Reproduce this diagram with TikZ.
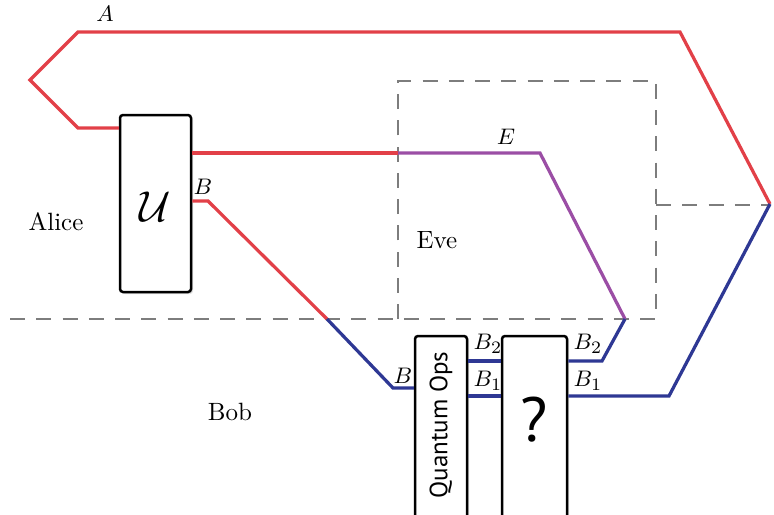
\documentclass[tikz,border=0pt]{standalone}
\usepackage{fontspec}
\newfontfamily\opsfont{PT Sans}
\usetikzlibrary{shadows}
\definecolor{wirered}{RGB}{226,64,72}
\definecolor{wirepurple}{RGB}{155,78,165}
\definecolor{wireblue}{RGB}{46,56,148}
\definecolor{zonegray}{RGB}{125,125,125}
\tikzset{
  wire/.style={line width=1.3pt, line join=miter},
  zone/.style={zonegray, line width=0.9pt, dash pattern=on 6pt off 4.5pt},
  opbox/.style={draw, line width=1pt, rounded corners=1.2pt, fill=white, inner sep=0pt,
    drop shadow={shadow xshift=0.8pt, shadow yshift=-0.8pt, opacity=0.25}},
  wirelabel/.style={font=\fontsize{9.5}{11}\selectfont, inner sep=1pt},
  party/.style={font=\normalsize, inner sep=1pt}
}
\begin{document}
\begin{tikzpicture}[x=0.4pt, y=-0.4pt]
  \clip (0,0) rectangle (774,514);

  % boxes
  \node[opbox, minimum width=28.4pt, minimum height=70.8pt] (U) at (155.5,203.5) {};
  \node[font=\fontsize{17}{20}\selectfont] (Ulabel) at (155,207) {$\mathcal{U}$};
  \node[opbox, minimum width=20.8pt, minimum height=81.6pt] (O) at (441,438) {};
  \node[rotate=90, font=\opsfont] (Olabel) at (441,425) {Quantum Ops};
  \node[opbox, minimum width=26pt, minimum height=81.6pt] (Q) at (534.5,438) {};
  \node[font=\opsfont\fontsize{25}{28}\selectfont] (Qlabel) at (534.5,420) {?};

  % dashed regions
  \coordinate (cutL) at (10,319);
  \coordinate (cutR) at (656,319);
  \draw[zone] (cutL) -- (cutR);
  \draw[zone] (398,319) -- (398,81) -- (656,81) -- (cutR);
  \draw[zone] (656,205) -- (770,205);

  % wire points
  \coordinate (turnA) at (770,204);
  \coordinate (eveIn) at (398,153);
  \coordinate (eveOut) at (625,319);
  \coordinate (bobIn) at (327,319);

  % system A
  \draw[wire, wirered] (U.west |- 0,128) -- (78,128) -- (30,80) -- (78,32) -- (680,32) -- (turnA);
  \draw[wire, wireblue] (turnA) -- (669,396) -- (Q.east |- 0,396);
  % system E
  \draw[wire, wirered] (U.east |- 0,153) -- (eveIn);
  \draw[wire, wirepurple] (eveIn) -- (540,153) -- (eveOut);
  \draw[wire, wireblue] (eveOut) -- (602,361) -- (Q.east |- 0,361);
  % system B
  \draw[wire, wirered] (U.east |- 0,201) -- (208,201) -- (bobIn);
  \draw[wire, wireblue] (bobIn) -- (393,388) -- (O.west |- 0,388);
  \draw[wire, wireblue] (O.east |- 0,361) -- (Q.west |- 0,361);
  \draw[wire, wireblue] (O.east |- 0,396) -- (Q.west |- 0,396);

  % labels
  \node[wirelabel] (lA) at (105,14) {$A$};
  \node[wirelabel] (lBu) at (203,187) {$B$};
  \node[wirelabel] (lE) at (506,137) {$E$};
  \node[wirelabel] (lBo) at (403,376) {$B$};
  \node[wirelabel] (lB2a) at (488,344) {$B_2$};
  \node[wirelabel] (lB1a) at (488,381) {$B_1$};
  \node[wirelabel] (lB2b) at (588,344) {$B_2$};
  \node[wirelabel] (lB1b) at (588,381) {$B_1$};
  \node[party] (alice) at (56,222) {Alice};
  \node[party] (eve) at (437,240) {Eve};
  \node[party] (bob) at (230,412) {Bob};
\end{tikzpicture}
\end{document}
